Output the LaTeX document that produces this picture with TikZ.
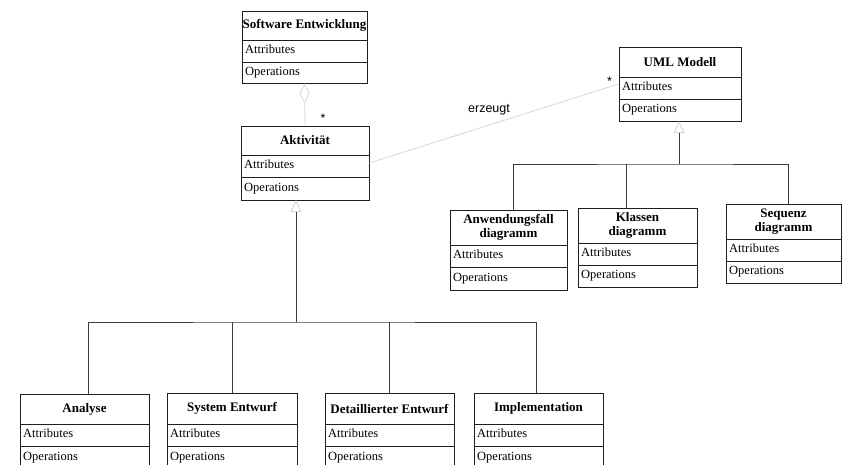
\documentclass[tikz,border=0pt]{standalone}
\usepackage{fontspec}
\setmainfont{Liberation Serif}
\newfontfamily\labelfont{Liberation Sans}
\usetikzlibrary{arrows.meta,fit}

\definecolor{boxline}{HTML}{1E1E1E}
\definecolor{treeline}{HTML}{3C3C3C}
\definecolor{faint}{HTML}{D6D6D6}

\tikzset{
  classbox/.style={draw=boxline, line width=0.9pt, inner sep=0pt},
  compline/.style={draw=boxline, line width=0.9pt},
  classtitle/.style={font=\fontsize{13}{14.5}\selectfont\bfseries, align=center, inner sep=0pt},
  member/.style={font=\fontsize{12.5}{14}\selectfont, anchor=west, inner sep=0pt,
                 text height=8.5pt, text depth=2.7pt},
  tree/.style={draw=treeline, line width=0.9pt},
  generalize/.style={tree, -{Triangle[open, length=12pt, width=11pt, color=faint]}},
  faintline/.style={draw=faint, line width=0.8pt},
  assoclabel/.style={font=\labelfont\fontsize{12.5}{14}\selectfont, inner sep=0pt},
  multiplicity/.style={font=\labelfont\fontsize{12.5}{14}\selectfont, inner sep=0pt}
}

% class box: name, left, top, right, first divider, second divider, bottom, title
\newcommand\umlclass[8]{%
  \node[classbox, fit={(#2,#3) (#4,#7)}] (#1) {};
  \draw[compline] (#2,#5) -- (#4,#5) (#2,#6) -- (#4,#6);
  \node[classtitle] (#1-t) at ({(#2+#4)/2},{(#3+#5)/2}) {#8};
  \node[member] (#1-a) at ({#2+3},{(#5+#6)/2}) {Attributes};
  \node[member] (#1-o) at ({#2+3},{(#6+#7)/2}) {Operations};
}

\begin{document}
\begin{tikzpicture}[x=1pt, y=-1pt]
  \useasboundingbox (0,0) rectangle (843,465);
  \clip (0,0) rectangle (843,465);

  % classes
  \umlclass{sw}{242}{11}{367}{40}{62}{83}{Software Entwicklung}
  \umlclass{act}{241}{126}{369}{155}{177}{200}{Aktivität}
  \umlclass{uml}{619}{47}{741}{77}{99}{121}{UML Modell}
  \umlclass{anw}{450}{210}{567}{245}{267}{290}{Anwendungsfall\\diagramm}
  \umlclass{kla}{578}{208}{697}{243}{265}{287}{Klassen\\diagramm}
  \umlclass{seq}{726}{204}{841}{239}{261}{283}{Sequenz\\diagramm}
  \umlclass{ana}{20}{394}{149}{424}{446}{470}{Analyse}
  \umlclass{sys}{167}{393}{297}{424}{446}{470}{System Entwurf}
  \umlclass{det}{325}{393}{454}{424}{446}{470}{Detaillierter Entwurf}
  \umlclass{imp}{474}{393}{603}{424}{446}{470}{Implementation}

  % aggregation: Software Entwicklung <>-- Aktivität
  \draw[faintline, {Diamond[open, length=20pt, width=10pt]}-] (sw.south) -- (act.north)
    node[multiplicity, at end, xshift=18pt, yshift=7pt] {*};

  % association: Aktivität erzeugt UML Modell
  \draw[faintline] (act.east) -- (uml.west)
    node[assoclabel, pos=0.48, yshift=15pt] {erzeugt}
    node[multiplicity, at end, xshift=-9pt, yshift=3pt] {*};

  % generalization tree below Aktivität
  \coordinate (actTip) at (296,200);
  \coordinate (actBus) at (296,322);
  \draw[generalize] (actBus) -- (actTip);
  \draw[tree] ([xshift=3.5pt]ana.north) |- (actBus) -| ([xshift=-2.5pt]imp.north);
  \draw[tree] (sys.north) -- (sys.north |- actBus);
  \draw[tree] (det.north) -- (det.north |- actBus);

  % generalization tree below UML Modell
  \coordinate (umlTip) at (679,121);
  \coordinate (umlBus) at (679,164);
  \draw[generalize] (umlBus) -- (umlTip);
  \draw[tree] ([xshift=4.5pt]anw.north) |- (umlBus) -| ([xshift=4.5pt]seq.north);
  \draw[tree] ([xshift=-11.5pt]kla.north) -- ++(0,-44);
\end{tikzpicture}
\end{document}
